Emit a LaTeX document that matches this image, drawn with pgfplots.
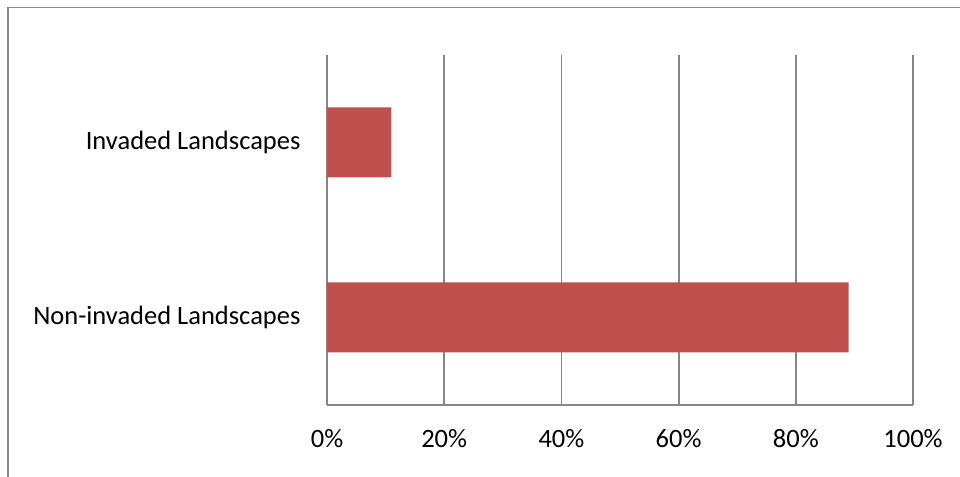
\documentclass[border=0pt]{standalone}
\usepackage{pgfplots}
\pgfplotsset{compat=1.18}
\usepackage{fontspec}
\setmainfont{Carlito}
\definecolor{barred}{HTML}{C0504D}
\definecolor{gridgray}{HTML}{868686}
\begin{document}
\begin{tikzpicture}[x=1bp,y=1bp]
\path[use as bounding box] (0,0) rectangle (960,477);
\draw[gridgray, line width=1.8bp] (8,0) -- (8,469.5) -- (961,469.5);
\begin{axis}[
  at={(327bp,72bp)}, anchor=south west,
  scale only axis, width=586bp, height=350bp,
  xmin=0, xmax=100, ymin=-0.5, ymax=1.5,
  axis x line*=bottom, axis y line*=left,
  axis line style={gridgray, line width=1.8bp, -},
  xtick={0,20,40,60,80,100},
  xticklabels={0\%,20\%,40\%,60\%,80\%,100\%},
  ytick={0,1},
  yticklabels={Non-invaded Landscapes,Invaded Landscapes},
  major tick length=0pt,
  xmajorgrids, grid style={gridgray, line width=1.8bp},
  tick label style={font=\fontsize{26.6}{30}\selectfont, text=black},
  xticklabel style={anchor=north, yshift=-21bp},
  yticklabel style={anchor=east, xshift=-23bp},
  /pgf/number format/assume math mode=true,
  clip=false,
]
\addplot[xbar, fill=barred, draw=none, bar width=70bp] coordinates {(89,0) (11,1)};
\end{axis}
\end{tikzpicture}
\end{document}
